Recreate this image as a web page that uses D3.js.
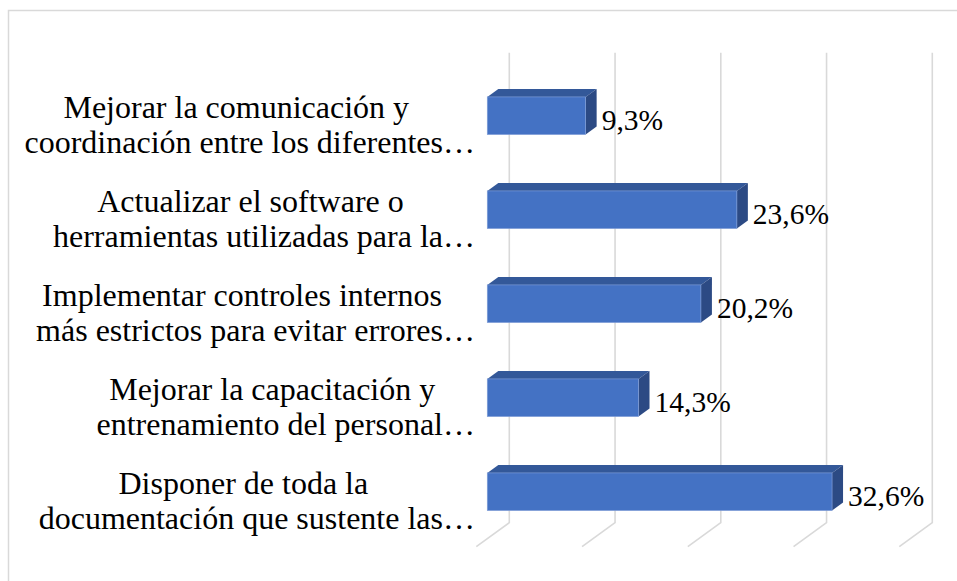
<!DOCTYPE html>
<html>
<head>
<meta charset="utf-8">
<script src="https://cdn.jsdelivr.net/npm/d3@7"></script>
<style>
  body { margin: 0; background: #fff; }
</style>
</head>
<body>
<div id="chart"></div>
<script>
var w = 957,
	h = 581;

// categories, top to bottom (two wrapped lines each, second one cut with an ellipsis)
var labelLine1 = [
	"Mejorar la comunicación y",
	"Actualizar el software o",
	"Implementar controles internos",
	"Mejorar la capacitación y",
	"Disponer de toda la"
];
var labelLine2 = [
	"coordinación entre los diferentes…",
	"herramientas utilizadas para la…",
	"más estrictos para evitar errores…",
	"entrenamiento del personal…",
	"documentación que sustente las…"
];
// percentages
var values = [9.3, 23.6, 20.2, 14.3, 32.6];
var ticks = [0, 10, 20, 30, 40];

var fmt = function(v){ return d3.format(".1f")(v).replace(".", ",") + "%"; };
var fontFam = "'Liberation Serif'";

// 3D depth of the plot box (back wall is up and to the right)
var depthX = 33, depthY = -24;
var d1 = 1/3, d2 = 2/3;   // bar front / back depth

var x = d3.scaleLinear()
	.domain([0, 40])
	.range([476.3, 899.3]);

// category bands on the front plane
var y = d3.scaleBand()
	.domain(d3.range(values.length))
	.range([76.7, 546.7]);

var barH = y.step() * 0.4;

var svg = d3.select("#chart")
	.append("svg")
	.attr("width", w)
	.attr("height", h);

// chart border
svg.append("rect")
	.attr("x", 8.5)
	.attr("y", 10.5)
	.attr("width", 980)
	.attr("height", 600)
	.attr("fill", "none")
	.attr("stroke", "#d9d9d9")
	.attr("stroke-width", 1.5);

//Gridlines: back wall + floor
var floorFront = y.range()[1],
	floorBack = floorFront + depthY,
	wallTop = y.range()[0] + depthY;

var grid = svg.append("g").attr("class", "grid");
grid.selectAll("path")
	.data(ticks)
	.enter()
	.append("path")
	.attr("d", function(t){
		var xb = x(t) + depthX;
		return "M" + xb + "," + wallTop + "L" + xb + "," + floorBack + "L" + x(t) + "," + floorFront;
	})
	.attr("fill", "none")
	.attr("stroke", "#d9d9d9")
	.attr("stroke-width", 1.6);

//Bars
var bars = svg.append("g").attr("class", "bars")
	.selectAll("g")
	.data(values)
	.enter()
	.append("g");

function pt(v, yy, d){ return [x(v) + d*depthX, yy + d*depthY]; }
function barTop(i){ return y(i) + y.bandwidth()/2 - barH/2; }

// top face
bars.append("path")
	.attr("d", function(v, i){
		var t = barTop(i);
		return d3.line()([pt(0, t, d1), pt(v, t, d1), pt(v, t, d2), pt(0, t, d2)]) + "Z";
	})
	.attr("fill", "#335899");

// right side face
bars.append("path")
	.attr("d", function(v, i){
		var t = barTop(i);
		return d3.line()([pt(v, t, d1), pt(v, t, d2), pt(v, t + barH, d2), pt(v, t + barH, d1)]) + "Z";
	})
	.attr("fill", "#2c4a84");

// front face
bars.append("rect")
	.attr("x", function(){ return pt(0, 0, d1)[0]; })
	.attr("y", function(v, i){ return pt(0, barTop(i), d1)[1]; })
	.attr("width", function(v){ return x(v) - x(0); })
	.attr("height", barH)
	.attr("fill", "#4472c4")
	.attr("stroke", "#7c9bd6")
	.attr("stroke-width", 0.7);

//Data labels
svg.append("g").attr("class", "data-labels")
	.selectAll("text")
	.data(values)
	.enter()
	.append("text")
	.attr("x", function(v){ return x(v) + d2*depthX + 5; })
	.attr("y", function(v, i){ return y(i) + y.bandwidth()/2 + 6.3; })
	.style("font-family", fontFam)
	.style("font-size", "29.5px")
	.style("fill", "#000")
	.text(fmt);

//Category labels
var cats = svg.append("g").attr("class", "cat-labels")
	.selectAll("g")
	.data(values)
	.enter()
	.append("g");

cats.each(function(v, i){
	var g = d3.select(this),
		cy = y(i) + y.bandwidth()/2;
	var l2 = g.append("text")
		.attr("x", 475)
		.attr("y", cy + 29.5)
		.attr("text-anchor", "end")
		.style("font-family", fontFam)
		.style("font-size", "32px")
		.style("fill", "#000")
		.text(labelLine2[i]);
	var w2 = l2.node().getComputedTextLength();
	g.append("text")
		.attr("x", 475 - w2/2 - 13.5)
		.attr("y", cy - 5.5)
		.attr("text-anchor", "middle")
		.style("font-family", fontFam)
		.style("font-size", "32px")
		.style("fill", "#000")
		.text(labelLine1[i]);
});
</script>
</body>
</html>
